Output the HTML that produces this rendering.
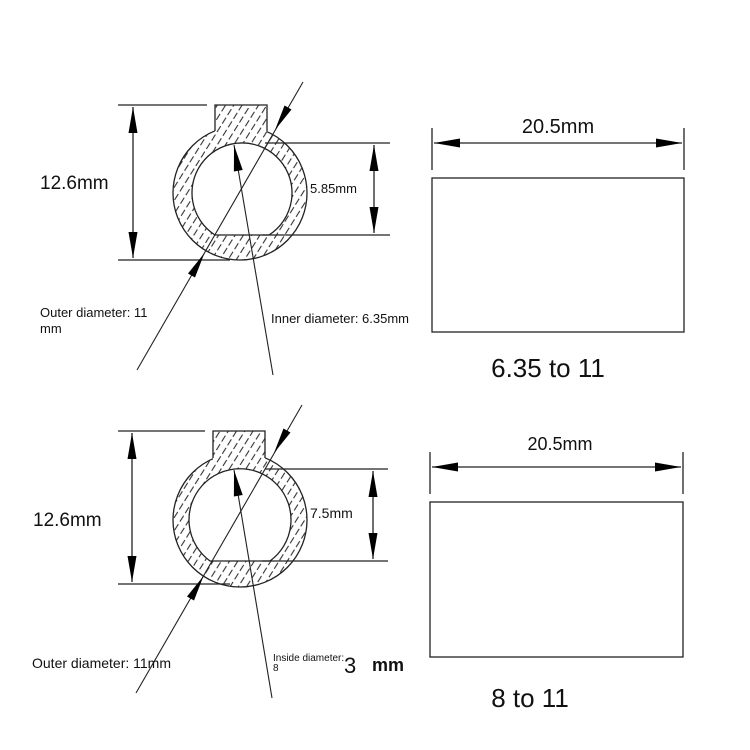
<!DOCTYPE html>
<html><head><meta charset="utf-8"><style>
html,body{margin:0;padding:0;background:#fff}
svg{display:block}
text{font-family:"Liberation Sans","DejaVu Sans",sans-serif;fill:#111}
</style></head><body>
<svg width="750" height="750" viewBox="0 0 750 750" xmlns="http://www.w3.org/2000/svg">
<defs>
<pattern id="h" width="7" height="40" patternUnits="userSpaceOnUse" patternTransform="rotate(32)">
<rect width="7" height="40" fill="#fff"/>
<line x1="2" y1="0" x2="2" y2="40" stroke="#333" stroke-width="1.1" stroke-dasharray="7 3"/>
</pattern>
<marker id="a" viewBox="0 0 26 9" refX="26" refY="4.5" markerWidth="26" markerHeight="9" markerUnits="userSpaceOnUse" orient="auto-start-reverse">
<path d="M0,0 L26,4.5 L0,9 Z" fill="#000"/>
</marker>
</defs>

<!-- TOP SECTION -->
<g id="top" stroke="#222" stroke-width="1.3" fill="none">
<circle cx="240" cy="193" r="67" fill="url(#h)"/>
<rect x="215" y="105" width="52" height="40" fill="url(#h)" stroke="none"/>
<path d="M215,131 L215,105 L267,105 L267,131"/>
<path d="M215,235 A50,50 0 1 1 269,235 Z" fill="#fff"/>
<!-- left dim -->
<line x1="118" y1="105" x2="207" y2="105"/>
<line x1="118" y1="260" x2="230" y2="260"/>
<line x1="133" y1="107" x2="133" y2="258" marker-start="url(#a)" marker-end="url(#a)"/>
<!-- right dim -->
<line x1="265" y1="143" x2="390" y2="143"/>
<line x1="262" y1="235" x2="390" y2="235"/>
<line x1="374" y1="145" x2="374" y2="233" marker-start="url(#a)" marker-end="url(#a)"/>
<!-- leaders -->
<line x1="303" y1="82" x2="137" y2="370" stroke-width="1.1"/>
<polygon points="275,130 291.5,109.5 284.5,105.5" fill="#000" stroke="none"/>
<polygon points="204.5,253 195,277.5 188,273.5" fill="#000" stroke="none"/>
<line x1="234" y1="145" x2="273" y2="375" stroke-width="1.1"/>
<polygon points="234,145 242.7,170 233.9,171.5" fill="#000" stroke="none"/>
</g>
<text x="40" y="189" font-size="19">12.6mm</text>
<text x="310" y="193" font-size="13">5.85mm</text>
<text x="40" y="317" font-size="13">Outer diameter: 11</text>
<text x="40" y="333" font-size="13">mm</text>
<text x="271" y="323" font-size="13">Inner diameter: 6.35mm</text>

<g stroke="#222" stroke-width="1.3" fill="none">
<rect x="432" y="178" width="252" height="154"/>
<line x1="432" y1="128" x2="432" y2="170"/>
<line x1="684" y1="128" x2="684" y2="170"/>
<line x1="434" y1="143" x2="682" y2="143" marker-start="url(#a)" marker-end="url(#a)"/>
</g>
<text x="558" y="133" font-size="20" text-anchor="middle">20.5mm</text>
<text x="548" y="377" font-size="26" text-anchor="middle">6.35 to 11</text>

<!-- BOTTOM SECTION -->
<g stroke="#222" stroke-width="1.3" fill="none">
<circle cx="240" cy="520" r="67" fill="url(#h)"/>
<rect x="213" y="431" width="52" height="42" fill="url(#h)" stroke="none"/>
<path d="M213,458 L213,431 L265,431 L265,458"/>
<path d="M210,561 A51,51 0 1 1 270,561 Z" fill="#fff"/>
<line x1="118" y1="431" x2="205" y2="431"/>
<line x1="118" y1="584" x2="230" y2="584"/>
<line x1="132" y1="433" x2="132" y2="582" marker-start="url(#a)" marker-end="url(#a)"/>
<line x1="265" y1="469" x2="388" y2="469"/>
<line x1="262" y1="561" x2="388" y2="561"/>
<line x1="373" y1="471" x2="373" y2="559" marker-start="url(#a)" marker-end="url(#a)"/>
<g transform="translate(-1,323)">
<line x1="303" y1="82" x2="137" y2="370" stroke-width="1.1"/>
<polygon points="275,130 291.5,109.5 284.5,105.5" fill="#000" stroke="none"/>
<polygon points="204.5,253 195,277.5 188,273.5" fill="#000" stroke="none"/>
</g>
<line x1="234" y1="470" x2="272" y2="698" stroke-width="1.1"/>
<polygon points="234,470 242.7,495 233.9,496.5" fill="#000" stroke="none"/>
</g>
<text x="33" y="526" font-size="19">12.6mm</text>
<text x="310" y="518" font-size="14">7.5mm</text>
<text x="32" y="668" font-size="14">Outer diameter: 11mm</text>
<text x="273" y="661" font-size="10">Inside diameter:</text>
<text x="273" y="671" font-size="10">8</text>
<text x="344" y="673" font-size="22">3</text>
<text x="372" y="671" font-size="18" font-weight="bold">mm</text>

<g stroke="#222" stroke-width="1.3" fill="none">
<rect x="430" y="502" width="253" height="155"/>
<line x1="430" y1="452" x2="430" y2="494"/>
<line x1="683" y1="452" x2="683" y2="494"/>
<line x1="432" y1="467" x2="681" y2="467" marker-start="url(#a)" marker-end="url(#a)"/>
</g>
<text x="560" y="450" font-size="18" text-anchor="middle">20.5mm</text>
<text x="530" y="707" font-size="26" text-anchor="middle">8 to 11</text>
</svg>
</body></html>
